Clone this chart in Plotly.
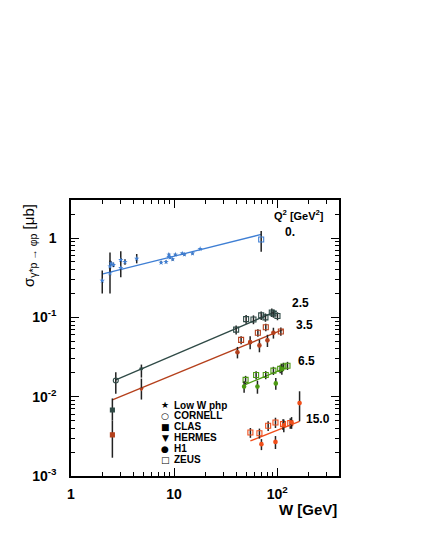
import plotly.graph_objects as go

# Q2 = 0 (photoproduction)
w_php0 = [2.01, 2.39, 2.39, 2.45, 2.58, 3.04, 3.04, 3.34, 4.34, 7.48, 8.36, 8.9, 8.9, 9.17, 9.7, 10.3, 12.0, 12.6, 15.1, 17.9]
s_php0 = [0.29, 0.36, 0.44, 0.48, 0.46, 0.42, 0.53, 0.50, 0.55, 0.49, 0.50, 0.62, 0.58, 0.57, 0.54, 0.62, 0.64, 0.62, 0.64, 0.73]
up_php0 = [0.10, 0.30, 0.08, 0.03, 0.03, 0.26, 0.03, 0.04, 0.08, 0.02, 0.02, 0.02, 0.02, 0.02, 0.02, 0.02, 0.02, 0.02, 0.02, 0.02]
dn_php0 = [0.09, 0.16, 0.08, 0.03, 0.03, 0.10, 0.03, 0.04, 0.07, 0.02, 0.02, 0.02, 0.02, 0.02, 0.02, 0.02, 0.02, 0.02, 0.02, 0.02]
w_zeus0 = [70]
s_zeus0 = [0.96]
up_zeus0 = [0.27]
dn_zeus0 = [0.29]
fit_w0 = [2.0, 70]
fit_s0 = [0.35, 1.11]

# Q2 = 2.5
w_cornell25 = [2.72]
s_cornell25 = [0.0160]
up_cornell25 = [0.0044]
dn_cornell25 = [0.0051]
w_clas25 = [2.52]
s_clas25 = [0.0068]
up_clas25 = [0.0027]
dn_clas25 = [0.0018]
w_hermes25 = [4.82]
s_hermes25 = [0.0224]
up_hermes25 = [0.003]
dn_hermes25 = [0.005]
w_zeus25 = [40, 50, 58.9, 70, 77, 88.7, 92, 100.7]
s_zeus25 = [0.070, 0.095, 0.094, 0.106, 0.10, 0.115, 0.112, 0.104]
e_zeus25 = [0.009, 0.012, 0.012, 0.013, 0.012, 0.014, 0.013, 0.012]
fit_w25 = [2.72, 99]
fit_s25 = [0.0163, 0.12]

# Q2 = 3.5
w_clas35 = [2.52]
s_clas35 = [0.0033]
up_clas35 = [0.0017]
dn_clas35 = [0.0016]
w_hermes35 = [4.82]
s_hermes35 = [0.0125]
up_hermes35 = [0.0044]
dn_hermes35 = [0.0033]
w_zeus35 = [44.7, 65, 77.6, 108.6]
s_zeus35 = [0.052, 0.064, 0.075, 0.0665]
e_zeus35 = [0.006, 0.007, 0.008, 0.008]
w_h135 = [41.2, 54.7, 67.3, 80.5, 92]
s_h135 = [0.0364, 0.0487, 0.0443, 0.0513, 0.064]
e_h135 = [0.006, 0.009, 0.008, 0.009, 0.010]
fit_w35 = [2.52, 113.5]
fit_s35 = [0.0091, 0.070]

# Q2 = 6.5
w_zeus65 = [49.4, 62.5, 77.5, 92, 107, 115, 126]
s_zeus65 = [0.0163, 0.0188, 0.0188, 0.0213, 0.0224, 0.024, 0.0246]
e_zeus65 = [0.0020, 0.0022, 0.0022, 0.0025, 0.0026, 0.0028, 0.0029]
w_h165 = [47.8, 64.4, 97, 111]
s_h165 = [0.0134, 0.0134, 0.0147, 0.0224]
e_h165 = [0.0022, 0.0025, 0.0025, 0.0035]
fit_w65 = [49, 120]
fit_s65 = [0.0142, 0.023]

# Q2 = 15
w_zeus15 = [55, 67.3, 81.8, 96.3, 114, 134]
s_zeus15 = [0.00353, 0.00346, 0.0043, 0.00473, 0.00451, 0.00464]
e_zeus15 = [0.0005, 0.0005, 0.0006, 0.0007, 0.0007, 0.0007]
w_h115 = [70.4, 96.3, 116, 138, 165]
s_h115 = [0.00252, 0.00269, 0.00437, 0.00473, 0.0083]
up_h115 = [0.0004, 0.0005, 0.0008, 0.0008, 0.0034]
dn_h115 = [0.0004, 0.0005, 0.0008, 0.0008, 0.0034]
fit_w15 = [55, 165]
fit_s15 = [0.00277, 0.00489]

q2_labels = ["0.", "2.5", "3.5", "6.5", "15.0"]
legend_symbols = ["★", "○", "■", "▼", "●", "□"]
legend_names = ["Low W php", "CORNELL", "CLAS", "HERMES", "H1", "ZEUS"]

blue = "#3f7fd4"
slate = "#2f4a46"
brown = "#b5401c"
green = "#4c9a12"
orange = "#f04e1a"

fig = go.Figure()


def add_pts(w, s, up, dn, symbol, color, size, lw=1.1):
    fig.add_trace(go.Scatter(
        x=w, y=s, mode="markers",
        marker=dict(symbol=symbol, color=color, size=size, line=dict(color=color, width=lw)),
        error_y=dict(type="data", array=up, arrayminus=dn, color="#222222", thickness=1.5, width=0),
        showlegend=False))


def add_fit(w, s, color):
    fig.add_trace(go.Scatter(x=w, y=s, mode="lines", line=dict(color=color, width=1.3), showlegend=False))


add_fit(fit_w0, fit_s0, blue)
add_fit(fit_w25, fit_s25, slate)
add_fit(fit_w35, fit_s35, brown)
add_fit(fit_w65, fit_s65, green)
add_fit(fit_w15, fit_s15, orange)

add_pts(w_php0, s_php0, up_php0, dn_php0, "star", blue, 4, 0)
add_pts(w_zeus0, s_zeus0, up_zeus0, dn_zeus0, "square-open", blue, 5)

add_pts(w_cornell25, s_cornell25, up_cornell25, dn_cornell25, "circle-open", slate, 5)
add_pts(w_clas25, s_clas25, up_clas25, dn_clas25, "square", slate, 4)
add_pts(w_hermes25, s_hermes25, up_hermes25, dn_hermes25, "triangle-down", slate, 3)
add_pts(w_zeus25, s_zeus25, e_zeus25, e_zeus25, "square-open", slate, 5)

add_pts(w_clas35, s_clas35, up_clas35, dn_clas35, "square", brown, 4)
add_pts(w_hermes35, s_hermes35, up_hermes35, dn_hermes35, "triangle-down", brown, 3)
add_pts(w_zeus35, s_zeus35, e_zeus35, e_zeus35, "square-open", brown, 5)
add_pts(w_h135, s_h135, e_h135, e_h135, "circle", brown, 3.5)

add_pts(w_zeus65, s_zeus65, e_zeus65, e_zeus65, "square-open", green, 5)
add_pts(w_h165, s_h165, e_h165, e_h165, "circle", green, 3.5)

add_pts(w_zeus15, s_zeus15, e_zeus15, e_zeus15, "square-open", orange, 5)
add_pts(w_h115, s_h115, up_h115, dn_h115, "circle", orange, 3.5)


def note(x, y, text, size, xanchor="center", weight="bold", family="Liberation Sans", angle=0):
    fig.add_annotation(x=x, y=y, xref="paper", yref="paper", text=text, showarrow=False,
                       xanchor=xanchor, yanchor="middle", textangle=angle,
                       font=dict(family=family, size=size, color="black", weight=weight))


# Q2 labels
q2_pos = [(0.818, 0.884), (0.858, 0.628), (0.873, 0.547), (0.877, 0.418), (0.922, 0.207)]
for lab, (px, py) in zip(q2_labels, q2_pos):
    note(px, py, lab, 12)
note(0.852, 0.946, "Q<sup>2</sup> [GeV<sup>2</sup>]", 11)

# legend
for i, (sym, name) in enumerate(zip(legend_symbols, legend_names)):
    py = 0.257 - i * 0.0395
    note(0.351, py, sym, 9, weight="normal", family="DejaVu Sans")
    note(0.377, py, name, 10, xanchor="left")

# axis titles
note(-0.153, 0.837, "σ<sub>γ*p → φp</sub> [μb]", 15, weight="normal", angle=-90)
note(1.0, -0.12, "W [GeV]", 15, xanchor="right")

axis_common = dict(type="log", showgrid=False, zeroline=False, showline=True, linecolor="black", linewidth=1.5,
                   mirror="allticks", ticks="inside", ticklen=8, tickcolor="black", tickwidth=1,
                   tickfont=dict(family="Liberation Sans", size=14, color="black", weight="bold"),
                   minor=dict(ticks="inside", ticklen=4, tickcolor="black", dtick="D1", showgrid=False))

fig.update_xaxes(range=[0, 2.6], tickmode="array", tickvals=[1, 10, 100], ticklabelstandoff=4,
                 ticktext=["1", "10", "10<sup>2</sup>"], **axis_common)
fig.update_yaxes(range=[-3, 0.48], tickmode="array", tickvals=[0.001, 0.01, 0.1, 1], ticklabelstandoff=10,
                 ticktext=["10<sup>-3</sup>", "10<sup>-2</sup>", "10<sup>-1</sup>", "1"], **axis_common)

# page body adds an 8px offset, so the figure is 8px smaller on each side
fig.update_layout(width=416, height=540, margin=dict(l=63, r=85, t=192, b=72, autoexpand=False),
                  plot_bgcolor="white", paper_bgcolor="white", showlegend=False)

fig.write_html("out.html")
